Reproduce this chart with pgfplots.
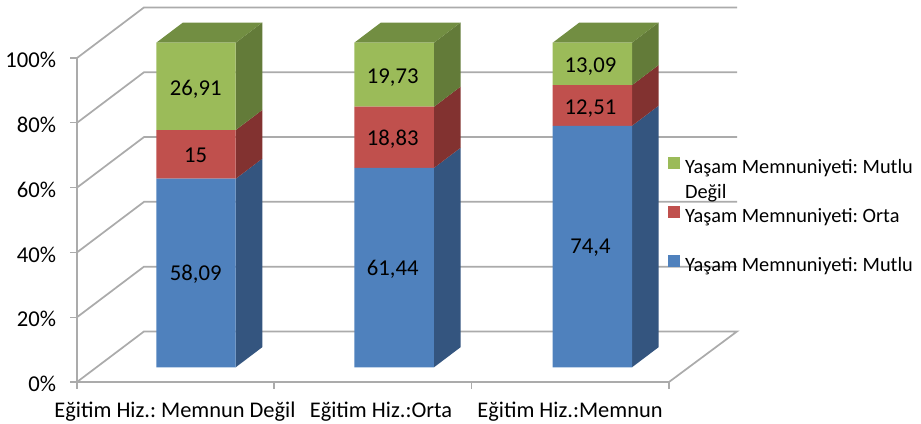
\documentclass[border=0pt]{standalone}
\usepackage{pgfplots}
\pgfplotsset{compat=1.18}
\usepackage{fontspec}
\setmainfont{Carlito}
\definecolor{gridc}{HTML}{ABABAB}
\definecolor{bluef}{HTML}{4F81BD}
\definecolor{blues}{HTML}{34557F}
\definecolor{redf}{HTML}{C0504D}
\definecolor{reds}{HTML}{823230}
\definecolor{greenf}{HTML}{9BBB59}
\definecolor{greens}{HTML}{637B39}
\definecolor{greent}{HTML}{728E42}
\pgfplotsset{
  barframe/.style={
    scale only axis, clip=false, hide axis,
    width=444pt, height=243.45pt,
    at={(57.75pt,42.525pt)}, anchor=south west,
    xmin=77, xmax=669, ymin=0, ymax=100},
}
\begin{document}
\frenchspacing
\begin{tikzpicture}[font=\fontsize{15pt}{18pt}\selectfont]
\useasboundingbox (0,0) rectangle (690.75pt,318pt);
% walls, floor and the value axis
\begin{axis}[
  scale only axis, clip=false,
  width=444pt, height=243pt,
  at={(57.75pt,31.5pt)}, anchor=south west,
  xmin=77, xmax=669, ymin=0, ymax=100,
  axis x line*=bottom, axis y line*=left,
  axis line style={gridc, line width=1.3pt, -},
  tick style={gridc, line width=0.9pt},
  tick align=outside, major tick length=5pt,
  ytick={0,20,40,60,80,100},
  yticklabel={\pgfmathprintnumber{\tick}\%},
  /pgf/number format/assume math mode=true,
  xtick={77,274,471.7,669}, xticklabels={},
  extra x ticks={175,381,570},
  extra x tick labels={Eğitim Hiz.: Memnun Değil, Eğitim Hiz.:Orta, Eğitim Hiz.:Memnun},
  extra x tick style={major tick length=0pt},
  yticklabel style={font=\fontsize{17pt}{20pt}\selectfont, inner sep=2pt, xshift=-8.5pt, yshift=-1.5pt},
  xticklabel style={font=\fontsize{16.8pt}{20pt}\selectfont, inner sep=2pt, yshift=-13pt},
]
\addplot[gridc, line width=1.3pt, forget plot] coordinates {(77,0)(144,15.6)(737,15.6)(669,0)};
\addplot[gridc, line width=1.3pt, forget plot] coordinates {(77,20)(144,35.6)(737,35.6)};
\addplot[gridc, line width=1.3pt, forget plot] coordinates {(77,40)(144,55.6)(737,55.6)};
\addplot[gridc, line width=1.3pt, forget plot] coordinates {(77,60)(144,75.6)(737,75.6)};
\addplot[gridc, line width=1.3pt, forget plot] coordinates {(77,80)(144,95.6)(737,95.6)};
\addplot[gridc, line width=1.3pt, forget plot] coordinates {(77,100)(144,115.6)(737,115.6)};
\end{axis}
% side and top faces of the bars
\begin{axis}[barframe]
\addplot[fill=blues, draw=none] coordinates {(235.7,0)(262.3,6.2)(262.3,64.29)(235.7,58.09)} -- cycle;
\addplot[fill=reds, draw=none] coordinates {(235.7,58.09)(262.3,64.29)(262.3,79.29)(235.7,73.09)} -- cycle;
\addplot[fill=greens, draw=none] coordinates {(235.7,73.09)(262.3,79.29)(262.3,106.2)(235.7,100)} -- cycle;
\addplot[fill=greent, draw=none] coordinates {(156.3,100)(235.7,100)(262.3,106.2)(182.9,106.2)} -- cycle;
\addplot[fill=blues, draw=none] coordinates {(434,0)(460.6,6.2)(460.6,67.64)(434,61.44)} -- cycle;
\addplot[fill=reds, draw=none] coordinates {(434,61.44)(460.6,67.64)(460.6,86.47)(434,80.27)} -- cycle;
\addplot[fill=greens, draw=none] coordinates {(434,80.27)(460.6,86.47)(460.6,106.2)(434,100)} -- cycle;
\addplot[fill=greent, draw=none] coordinates {(354.3,100)(434,100)(460.6,106.2)(380.9,106.2)} -- cycle;
\addplot[fill=blues, draw=none] coordinates {(632,0)(658.6,6.2)(658.6,80.6)(632,74.4)} -- cycle;
\addplot[fill=reds, draw=none] coordinates {(632,74.4)(658.6,80.6)(658.6,93.11)(632,86.91)} -- cycle;
\addplot[fill=greens, draw=none] coordinates {(632,86.91)(658.6,93.11)(658.6,106.2)(632,100)} -- cycle;
\addplot[fill=greent, draw=none] coordinates {(552.7,100)(632,100)(658.6,106.2)(579.3,106.2)} -- cycle;
\end{axis}
% front faces, stacked, and the legend
\begin{axis}[barframe,
  ybar stacked, bar width=59.6pt,
  reverse legend,
  legend style={draw=none, fill=none, at={(0.9983,0.649)}, anchor=north west,
    font=\fontsize{15.25pt}{18pt}\selectfont,
    inner sep=0pt, outer sep=0pt,
    nodes={inner sep=0pt, outer sep=0pt},
    row sep=22.9pt,
    /tikz/every odd column/.append style={column sep=3.75pt}},
  legend cell align=left,
  legend image code/.code={\fill[#1] (0pt,-1.2pt) rectangle (9pt,7.8pt);},
]
\addplot[fill=bluef, draw=none] coordinates {(196,58.09)(394.15,61.44)(592.35,74.4)};
\addplot[fill=redf, draw=none] coordinates {(196,15)(394.15,18.83)(592.35,12.51)};
\addplot[fill=greenf, draw=none] coordinates {(196,26.91)(394.15,19.73)(592.35,13.09)};
\legend{{\parbox[t]{175pt}{\baselineskip=19.2pt Yaşam Memnuniyeti: Mutlu}},
        {\parbox[t]{175pt}{\baselineskip=19.2pt Yaşam Memnuniyeti: Orta}},
        {\parbox[t]{175pt}{\baselineskip=19.2pt Yaşam Memnuniyeti: Mutlu\\Değil}}}
\end{axis}
% data labels
\begin{axis}[barframe]
\addplot[draw=none, mark=none, nodes near coords, point meta=explicit symbolic,
  nodes near coords style={anchor=center, text=black, inner sep=0pt, text height=10.9pt, text depth=0pt,
    font=\fontsize{17pt}{20pt}\selectfont}]
  table[x=x, y=y, meta=l] {
x y l
195.7 29.0 58,09
195.7 65.2 15
195.7 86.0 26,91
392.7 30.6 61,44
392.7 70.6 18,83
392.7 89.7 19,73
590.5 37.2 74,4
590.5 80.0 12,51
590.5 93.1 13,09
};
\end{axis}
\end{tikzpicture}
\end{document}
